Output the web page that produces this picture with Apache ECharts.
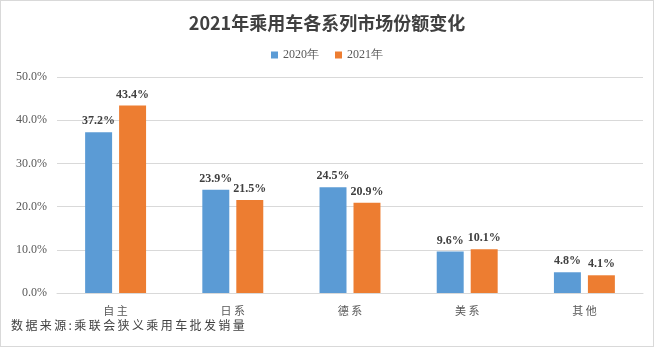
<!DOCTYPE html>
<html><head><meta charset="utf-8">
<script src="https://cdn.jsdelivr.net/npm/echarts@6/dist/echarts.min.js"></script>
<style>html,body{margin:0;padding:0;background:#fff}#c{width:654px;height:347px;box-sizing:border-box;border:1px solid #d9d9d9}</style>
</head><body><div id="c"></div>
<script>
const categories = ['自主','日系','德系','美系','其他'];
const s2020 = [37.2, 23.9, 24.5, 9.6, 4.8];
const s2021 = [43.4, 21.5, 20.9, 10.1, 4.1];
const seriesNames = ['2020年','2021年'];
const titleText = '2021年乘用车各系列市场份额变化';
const sourceText = '数据来源:乘联会狭义乘用车批发销量';

const chart = echarts.init(document.getElementById('c'));
const serif = '"Liberation Serif","DejaVu Serif",serif';
const lbl = {show:true, position:'top', formatter: p => p.value.toFixed(1)+'%', fontFamily: serif, fontWeight:'bold', fontSize:12, color:'#404040', distance:5};
chart.setOption({
  animation:false,
  title:{text:titleText, left:'center', top:8, textStyle:{fontFamily:'"Noto Sans CJK SC",serif', fontWeight:'bold', fontSize:18, color:'#404040'}},
  legend:{data:seriesNames, top:43, left:'center', itemWidth:7, itemHeight:7, itemGap:16, icon:'rect',
    textStyle:{fontFamily:serif, fontSize:12, color:'#595959'}},
  graphic:[{type:'text', left:10, top:318, style:{text:sourceText.split('').join('\u2009'), font:'12px "Noto Sans CJK SC"', fill:'#404040'}}],
  grid:{left:56, right:10, top:76, bottom:53},
  xAxis:{type:'category', data:categories, axisTick:{show:false}, axisLine:{lineStyle:{color:'#d9d9d9'}},
    axisLabel:{color:'#595959', fontSize:11, fontFamily:'"Noto Sans CJK SC"', margin:12, formatter: v => v.split('').join(' ')}},
  yAxis:{type:'value', min:0, max:50, interval:10, axisLine:{show:false}, axisTick:{show:false},
    splitLine:{lineStyle:{color:'#d9d9d9'}},
    axisLabel:{formatter: v => v.toFixed(1)+'%', fontFamily:serif, fontSize:12, color:'#595959', margin:10}},
  series:[
    {name:seriesNames[0], type:'bar', data:s2020, itemStyle:{color:'#5b9bd5'}, barGap:'26%', barCategoryGap:'48%', label:lbl},
    {name:seriesNames[1], type:'bar', data:s2021, itemStyle:{color:'#ed7d31'}, label:lbl}
  ]
});
</script></body></html>
